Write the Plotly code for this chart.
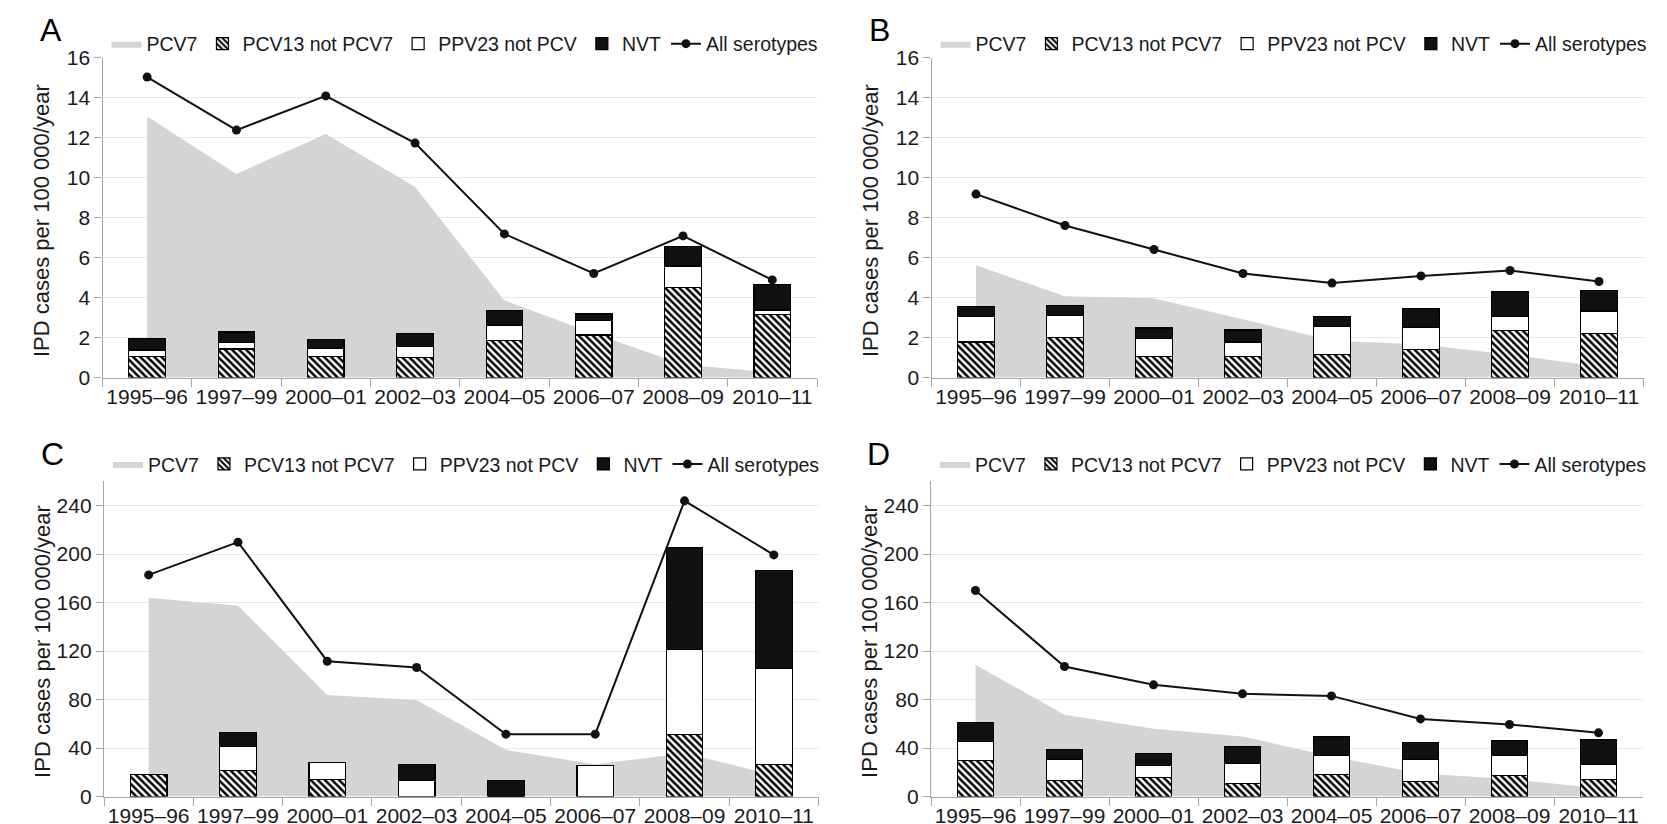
import plotly.graph_objects as go

W, H = 1667, 824
FONT = "Liberation Sans, Arial, sans-serif"

categories = ["1995–96", "1997–99", "2000–01", "2002–03", "2004–05", "2006–07", "2008–09", "2010–11"]

# Panel A
a_pcv7 = [13.05, 10.18, 12.18, 9.52, 3.85, 2.2, 0.65, 0.25]
a_pcv13 = [1.05, 1.43, 1.05, 1.02, 1.85, 2.13, 4.50, 3.17]
a_ppv23 = [0.33, 0.34, 0.42, 0.55, 0.78, 0.72, 1.08, 0.21]
a_nvt = [0.59, 0.51, 0.45, 0.65, 0.72, 0.33, 0.97, 1.29]
a_all = [15.02, 12.37, 14.08, 11.72, 7.18, 5.20, 7.08, 4.88]

# Panel B
b_pcv7 = [5.61, 4.06, 3.96, 2.90, 1.85, 1.65, 1.15, 0.55]
b_pcv13 = [1.78, 2.00, 1.04, 1.07, 1.17, 1.42, 2.36, 2.19]
b_ppv23 = [1.29, 1.09, 0.91, 0.71, 1.40, 1.10, 0.71, 1.14]
b_nvt = [0.49, 0.52, 0.53, 0.60, 0.50, 0.95, 1.24, 1.03]
b_all = [9.17, 7.60, 6.40, 5.20, 4.72, 5.08, 5.35, 4.80]

# Panel C
c_pcv7 = [163.9, 157.3, 83.8, 79.7, 38.5, 26.5, 35.7, 17.9]
c_pcv13 = [18.4, 21.2, 14.3, 0, 0, 0, 51.4, 26.7]
c_ppv23 = [0, 20.0, 14.0, 12.9, 0, 25.6, 70.1, 79.1]
c_nvt = [0, 11.6, 0, 13.8, 13.5, 0, 83.9, 80.3]
c_all = [182.8, 209.8, 111.6, 106.4, 51.4, 51.4, 243.9, 199.3]

# Panel D
d_pcv7 = [108.6, 67.4, 55.8, 49.5, 33.0, 19.0, 14.5, 6.9]
d_pcv13 = [29.7, 12.9, 15.7, 11.0, 18.4, 12.4, 17.3, 13.7]
d_ppv23 = [15.7, 17.3, 9.6, 15.9, 15.4, 17.8, 16.2, 12.4]
d_nvt = [15.9, 8.8, 10.4, 14.3, 16.0, 14.6, 12.4, 20.6]
d_all = [169.9, 107.2, 92.1, 84.7, 83.0, 64.0, 59.4, 52.5]

panel_letters = ["A", "B", "C", "D"]
y_title = "IPD cases per 100 000/year"
names = ["PCV7", "PCV13 not PCV7", "PPV23 not PCV", "NVT", "All serotypes"]

panels = [
    (a_pcv7, a_pcv13, a_ppv23, a_nvt, a_all),
    (b_pcv7, b_pcv13, b_ppv23, b_nvt, b_all),
    (c_pcv7, c_pcv13, c_ppv23, c_nvt, c_all),
    (d_pcv7, d_pcv13, d_ppv23, d_nvt, d_all),
]

# pixel geometry of the plot areas: (left, right, top, bottom)
geom = [
    (94.5, 809.0, 49.5, 369.5),
    (923.5, 1635.5, 49.5, 369.5),
    (96.0, 810.5, 473.3, 788.5),
    (923.0, 1635.0, 473.3, 788.5),
]
yranges = [[0, 16], [0, 16], [0, 260], [0, 260]]
ytick_sets = [list(range(0, 17, 2)), list(range(0, 17, 2)),
              list(range(0, 241, 40)), list(range(0, 241, 40))]

GREY_AREA = "#d4d4d4"
AXIS_COL = "#a6a6a6"
GRID_COL = "#e8e8e8"
TXT = "#1a1a1a"

fig = go.Figure()
layout = dict(
    template="none",
    width=W, height=H, margin=dict(l=0, r=0, t=0, b=0, autoexpand=False),
    paper_bgcolor="white", plot_bgcolor="rgba(0,0,0,0)",
    barmode="stack", bargap=0.59, showlegend=True,
    font=dict(family=FONT, size=21, color=TXT),
    annotations=[],
)

for i, (pcv7, pcv13, ppv23, nvt, allv) in enumerate(panels):
    k = i + 1
    xs = "" if k == 1 else str(k)
    xa = "x" + xs
    ya = "y" + xs
    ov = str(k + 4)
    yo = "y" + ov
    lg = "legend" if k == 1 else "legend%d" % k
    l, r, t, b = geom[i]
    xdom = [l / W, r / W]
    ydom = [1 - b / H, 1 - t / H]

    fig.add_trace(go.Scatter(
        x=categories, y=pcv7, name=names[0], mode="lines", fill="tozeroy",
        fillcolor=GREY_AREA, line=dict(width=0, color=GREY_AREA),
        xaxis=xa, yaxis=ya, legend=lg, hoverinfo="skip"))
    fig.add_trace(go.Bar(
        x=categories, y=pcv13, name=names[1], width=0.41,
        marker=dict(color="white", line=dict(color="black", width=1.2),
                    pattern=dict(shape="\\", fgcolor="black", bgcolor="white",
                                 size=5, solidity=0.5)),
        xaxis=xa, yaxis=yo, legend=lg))
    fig.add_trace(go.Bar(
        x=categories, y=ppv23, name=names[2], width=0.41,
        marker=dict(color="white", line=dict(color="black", width=1.2)),
        xaxis=xa, yaxis=yo, legend=lg))
    fig.add_trace(go.Bar(
        x=categories, y=nvt, name=names[3], width=0.41,
        marker=dict(color="#111111", line=dict(color="black", width=1.2)),
        xaxis=xa, yaxis=yo, legend=lg))
    fig.add_trace(go.Scatter(
        x=categories, y=allv, name=names[4], mode="lines+markers",
        line=dict(color="#111111", width=2),
        marker=dict(color="#111111", size=9, symbol="circle"),
        xaxis=xa, yaxis=yo, legend=lg))

    layout["xaxis" + xs] = dict(
        domain=xdom, anchor=ya, type="category", range=[-0.5, 7.5],
        showline=True, linecolor=AXIS_COL, linewidth=1.3,
        ticks="outside", tickson="boundaries", ticklen=8, tickcolor=AXIS_COL,
        tickwidth=1.3, showgrid=False, zeroline=False, tickangle=0,
        automargin=False,
        tickfont=dict(family=FONT, size=21, color=TXT), fixedrange=True)
    layout["yaxis" + xs] = dict(
        domain=ydom, anchor=xa, range=yranges[i], tickvals=ytick_sets[i],
        showline=True, linecolor=AXIS_COL, linewidth=1.3,
        ticks="outside", ticklen=7, tickcolor=AXIS_COL, tickwidth=1.3,
        showgrid=True, gridcolor=GRID_COL, gridwidth=1, zeroline=False,
        automargin=False,
        tickfont=dict(family=FONT, size=21, color=TXT), fixedrange=True)
    layout["yaxis" + ov] = dict(
        domain=ydom, anchor=xa, overlaying=ya, range=yranges[i],
        visible=False, showgrid=False, zeroline=False, fixedrange=True)

    layout[lg] = dict(
        orientation="h", x=(l + 4) / W, xanchor="left",
        y=1 - ((t - 13.5) if i < 2 else (t - 17)) / H, yanchor="middle",
        bgcolor="rgba(0,0,0,0)", traceorder="normal",
        font=dict(family=FONT, size=19.5, color=TXT),
        itemwidth=30, tracegroupgap=0)

    layout["annotations"].append(dict(
        text=panel_letters[i], xref="paper", yref="paper",
        x=(l - 52) / W, y=1 - ((t - 28) if i < 2 else (t - 27)) / H,
        xanchor="center", yanchor="middle", showarrow=False,
        font=dict(family=FONT, size=32, color="black")))
    layout["annotations"].append(dict(
        text=y_title, xref="paper", yref="paper",
        x=(l - 61) / W, y=1 - ((t + b) / 2 + 3) / H,
        xanchor="center", yanchor="middle", textangle=-90, showarrow=False,
        font=dict(family=FONT, size=22, color=TXT)))

fig.update_layout(**layout)
fig.write_html("out.html")
